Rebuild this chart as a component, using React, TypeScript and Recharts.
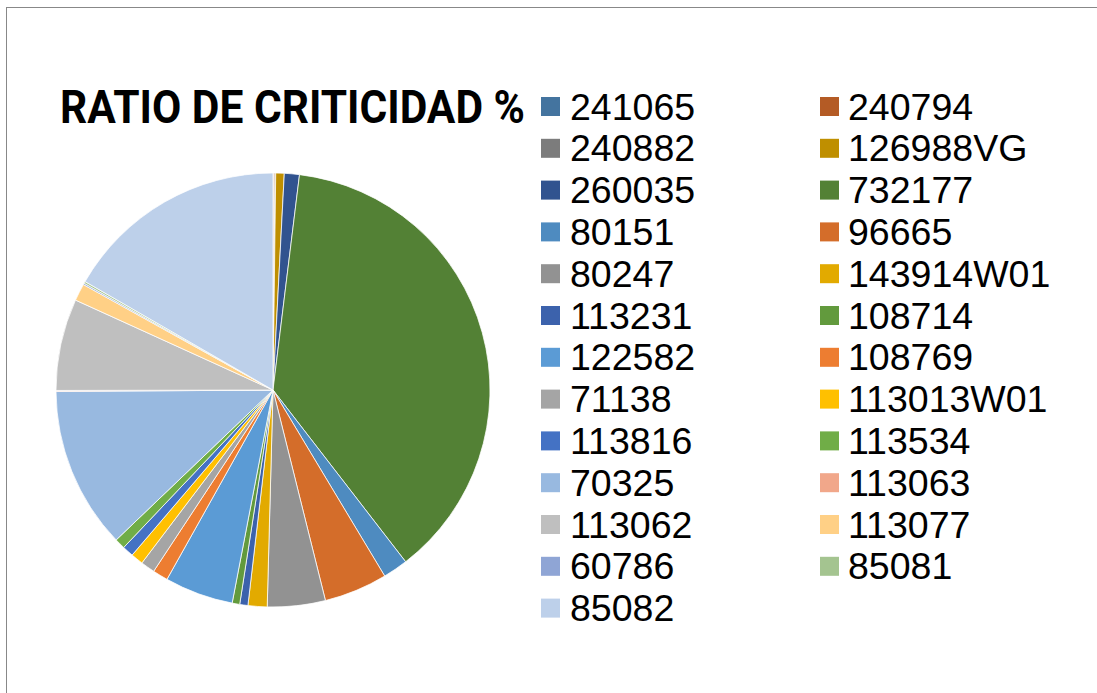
import React from 'react';
import { PieChart, Pie, Legend } from 'recharts';

const categories = [
  '241065', '240794', '240882', '126988VG', '260035', '732177', '80151', '96665',
  '80247', '143914W01', '113231', '108714', '122582', '108769', '71138', '113013W01',
  '113816', '113534', '70325', '113063', '113062', '113077', '60786', '85081', '85082',
];

const ratios = [
  0.04, 0.1, 0.06, 0.63, 1.12, 37.58, 1.86, 4.72,
  4.31, 1.42, 0.61, 0.56, 5.11, 1.14, 1.06, 0.92,
  0.83, 0.78, 12.03, 0.08, 6.83, 1.28, 0.11, 0.14, 16.67,
];

const colors = [
  '#44749F', '#B45B25', '#7C7C7C', '#BF8F00', '#31538F', '#538135', '#4E8BC0', '#D46D2A',
  '#929292', '#E2AA00', '#3C62AC', '#629A3D', '#5B9BD5', '#ED7D31', '#A5A5A5', '#FFC000',
  '#4472C4', '#70AD47', '#98B9E0', '#F1A78A', '#BFBFBF', '#FFD086', '#8FA5D5', '#A4C490',
  '#BDD0EA',
];

const title = 'RATIO DE CRITICIDAD %';

const data = categories.map((name, i) => ({ name, value: ratios[i], fill: colors[i] }));

const renderLegend = (props: any) => {
  const payload: any[] = [...(props.payload || [])].sort(
    (a: any, b: any) => categories.indexOf(String(a.value)) - categories.indexOf(String(b.value))
  );
  return (
    <svg
      width={1097}
      height={693}
      style={{ position: 'absolute', left: 0, top: 0, overflow: 'visible', pointerEvents: 'none' }}
    >
      {payload.map((entry: any, i: number) => {
        const col = i % 2;
        const row = Math.floor(i / 2);
        const cy = 106.5 + row * 41.8;
        const sx = col === 0 ? 541 : 820;
        const tx = col === 0 ? 570 : 848;
        return (
          <g key={i}>
            <rect x={sx} y={cy - 9.5} width={19} height={19} fill={entry.color || colors[i]} />
            <text
              x={tx}
              y={cy + 13}
              fontFamily="'Liberation Sans', Arial, sans-serif"
              fontSize={37.5}
              fill="#000"
            >
              {entry.value}
            </text>
          </g>
        );
      })}
    </svg>
  );
};

export default function App() {
  return (
    <div
      style={{
        position: 'absolute',
        left: 0,
        top: 0,
        width: 1097,
        height: 693,
        overflow: 'hidden',
        background: '#fff',
      }}
    >
      <div
        style={{
          position: 'absolute',
          left: 6,
          top: 7,
          width: 1200,
          height: 800,
          border: '1px solid #888888',
        }}
      />
      <svg width={1097} height={693} style={{ position: 'absolute', left: 0, top: 0 }}>
        <text
          x={60}
          y={122.7}
          fontFamily="'Liberation Sans Narrow', Roboto, 'Liberation Sans', sans-serif"
          fontWeight="bold"
          fontSize={46}
          textLength={465}
          lengthAdjust="spacingAndGlyphs"
          fill="#000"
        >
          {title}
        </text>
      </svg>
      <div style={{ position: 'absolute', left: 0, top: 0 }}>
        <PieChart width={1097} height={693} margin={{ top: 0, right: 0, bottom: 0, left: 0 }}>
          <Pie
            data={data}
            dataKey="value"
            nameKey="name"
            cx={273}
            cy={390}
            outerRadius={217}
            startAngle={90}
            endAngle={-270}
            stroke="#ffffff"
            strokeWidth={0.75}
            isAnimationActive={false}
          />
          <Legend
            content={renderLegend}
            wrapperStyle={{ position: 'absolute', left: 0, top: 0, width: 0, height: 0, overflow: 'visible' }}
          />
        </PieChart>
      </div>
    </div>
  );
}
